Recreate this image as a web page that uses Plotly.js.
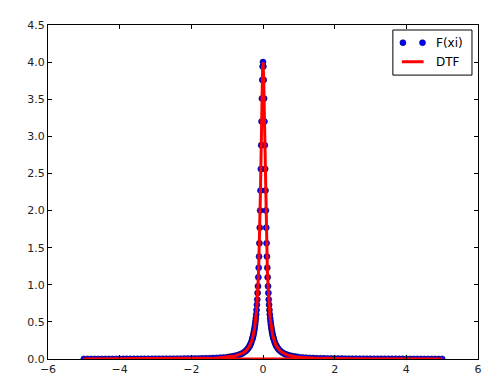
<!DOCTYPE html>
<html>
<head>
<meta charset="utf-8">
<script src="https://cdn.plot.ly/plotly-3.0.1.min.js"></script>
<style>html,body{margin:0;padding:0;background:#fff;}#chart{width:500px;height:387px;}</style>
</head>
<body>
<div id="chart"></div>
<script>
// Positive half of the sample grid (the curve is symmetric about x = 0)
const halfX = [0, 0.01, 0.02, 0.03, 0.04, 0.05, 0.06, 0.07, 0.08, 0.09, 0.10,
  0.11, 0.12, 0.13, 0.14, 0.15, 0.16, 0.17, 0.18, 0.19, 0.20,
  0.21, 0.22, 0.23, 0.24, 0.25, 0.26, 0.27, 0.28, 0.29, 0.30,
  0.32, 0.34, 0.36, 0.38, 0.40, 0.43, 0.46, 0.50, 0.55, 0.60, 0.65, 0.70, 0.75, 0.80, 0.85, 0.90, 0.95, 1.0,
  1.1, 1.2, 1.3, 1.4, 1.5, 1.6, 1.7, 1.8, 1.9, 2.0,
  2.1, 2.2, 2.3, 2.4, 2.5, 2.6, 2.7, 2.8, 2.9, 3.0,
  3.1, 3.2, 3.3, 3.4, 3.5, 3.6, 3.7, 3.8, 3.9, 4.0,
  4.1, 4.2, 4.3, 4.4, 4.5, 4.6, 4.7, 4.8, 4.9, 5.0];
const halfF = [4.00, 3.94, 3.76, 3.51, 3.20, 2.88, 2.56, 2.27, 2.00, 1.77, 1.56,
  1.38, 1.23, 1.10, 0.98, 0.89, 0.80, 0.73, 0.66, 0.60, 0.55,
  0.507, 0.467, 0.432, 0.400, 0.372, 0.346, 0.323, 0.302, 0.283, 0.266,
  0.235, 0.210, 0.188, 0.170, 0.154, 0.134, 0.117, 0.100, 0.083, 0.070, 0.060, 0.052, 0.045, 0.040, 0.035, 0.031, 0.028, 0.025,
  0.021, 0.018, 0.015, 0.013, 0.011, 0.010, 0.0088, 0.0079, 0.0071, 0.0064,
  0.0058, 0.0053, 0.0048, 0.0044, 0.0041, 0.0038, 0.0035, 0.0033, 0.0030, 0.0028,
  0.0027, 0.0025, 0.0023, 0.0022, 0.0021, 0.0020, 0.0019, 0.0018, 0.0017, 0.0016,
  0.0015, 0.0015, 0.0014, 0.0013, 0.0013, 0.0012, 0.0012, 0.0011, 0.0011, 0.0010];

const seriesNames = ["F(xi)", "DTF"];
const xTicks = [-6, -4, -2, 0, 2, 4, 6];
const yTicks = [0, 0.5, 1.0, 1.5, 2.0, 2.5, 3.0, 3.5, 4.0, 4.5];

// Full sample set: mirror of the half grid, ascending from -5 to 5
const negX = halfX.slice(1).map(v => -v).reverse();
const negF = halfF.slice(1).reverse();
const xi = negX.concat(halfX);
const Fxi = negF.concat(halfF);
// DTF is stored in unshifted order (0 .. 5, then -5 .. 0), which draws the baseline
const dtfX = halfX.concat(negX);
const dtfY = halfF.concat(negF);

const font = {family: "DejaVu Sans, sans-serif", size: 11, color: "#222"};
const axisCommon = {
  showgrid: false, zeroline: false, showline: true, linecolor: "#000", linewidth: 1,
  mirror: "allticks", ticks: "inside", ticklen: 4, tickwidth: 1, tickcolor: "#000",
  tickfont: font
};

const traces = [
  {x: xi, y: Fxi, name: seriesNames[0], mode: "markers", type: "scatter",
   marker: {color: "#0000ff", size: 6, line: {color: "#000060", width: 0.6}}, showlegend: false},
  {x: dtfX, y: dtfY, name: seriesNames[1], mode: "lines", type: "scatter",
   line: {color: "#ff0000", width: 3}, showlegend: false}
];

// legend geometry in paper coordinates
const lx0 = 0.802, lx1 = 0.986, ly0 = 0.850, ly1 = 0.985;
const layout = {
  width: 500, height: 387,
  margin: {l: 48, r: 22, t: 25, b: 28},
  paper_bgcolor: "#fff", plot_bgcolor: "#fff",
  font: font,
  xaxis: Object.assign({range: [-6, 6], tickvals: xTicks, ticktext: xTicks.map(v => v < 0 ? "\u2212" + Math.abs(v) : String(v))}, axisCommon),
  yaxis: Object.assign({range: [0, 4.5], tickvals: yTicks, ticktext: yTicks.map(v => v.toFixed(1))}, axisCommon),
  shapes: [
    {type: "rect", xref: "paper", yref: "paper", x0: lx0, x1: lx1, y0: ly0, y1: ly1,
     line: {color: "#000", width: 1}, fillcolor: "#fff", layer: "above"},
    {type: "circle", xref: "paper", yref: "paper", xsizemode: "pixel", ysizemode: "pixel",
     xanchor: 0.8254, yanchor: 0.947, x0: -3, x1: 3, y0: -3, y1: 3,
     fillcolor: "#0000ff", line: {color: "#000060", width: 0.6}, layer: "above"},
    {type: "circle", xref: "paper", yref: "paper", xsizemode: "pixel", ysizemode: "pixel",
     xanchor: 0.871, yanchor: 0.947, x0: -3, x1: 3, y0: -3, y1: 3,
     fillcolor: "#0000ff", line: {color: "#000060", width: 0.6}, layer: "above"},
    {type: "line", xref: "paper", yref: "paper", x0: 0.823, x1: 0.8735, y0: 0.890, y1: 0.890,
     line: {color: "#ff0000", width: 3}, layer: "above"}
  ],
  annotations: [
    {xref: "paper", yref: "paper", x: 0.898, y: 0.947, text: seriesNames[0], showarrow: false,
     xanchor: "left", yanchor: "middle", font: {family: "DejaVu Sans, sans-serif", size: 12, color: "#000"}},
    {xref: "paper", yref: "paper", x: 0.898, y: 0.890, text: seriesNames[1], showarrow: false,
     xanchor: "left", yanchor: "middle", font: {family: "DejaVu Sans, sans-serif", size: 12, color: "#000"}}
  ]
};

Plotly.newPlot("chart", traces, layout, {displayModeBar: false, staticPlot: true});
</script>
</body>
</html>
